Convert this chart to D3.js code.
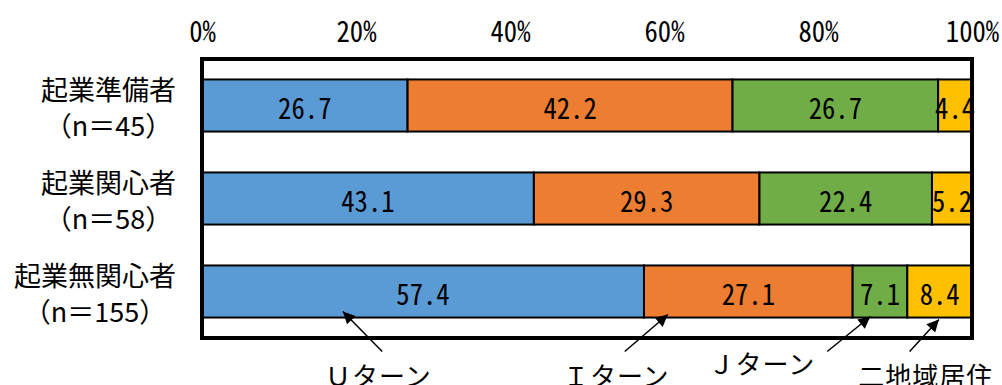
<!DOCTYPE html>
<html>
<head>
<meta charset="utf-8">
<script src="https://cdn.jsdelivr.net/npm/d3@7"></script>
<style>
  html, body { margin: 0; padding: 0; background: #fff; }
  svg { display: block; }
  .num { font-family: "Noto Sans Mono CJK JP", "Liberation Mono", monospace; }
  .jp { font-family: "Noto Sans CJK JP", sans-serif; }
</style>
</head>
<body>
<svg id="chart" width="1002" height="385"></svg>
<script>
// ---- data ----
const categories = ["起業準備者", "起業関心者", "起業無関心者"];
const sampleSizes = ["（n＝45）", "（n＝58）", "（n＝155）"];
const seriesNames = ["Ｕターン", "Ｉターン", "Ｊターン", "二地域居住"];
const uTurn = [26.7, 43.1, 57.4];
const iTurn = [42.2, 29.3, 27.1];
const jTurn = [26.7, 22.4, 7.1];
const dualResidence = [4.4, 5.2, 8.4];
const tickValues = [0, 20, 40, 60, 80, 100];

// ---- styling / layout ----
const colors = ["#5B9BD5", "#ED7D31", "#70AD47", "#FFC000"];
const plot = { left: 202, right: 972, top: 59, bottom: 338 };
const numScale = 0.92;   // horizontal condensing of numeric labels
const numSize = 29;

const svg = d3.select("#chart");
const x = d3.scaleLinear().domain([0, 100]).range([plot.left, plot.right]);
const y = d3.scaleBand().domain(categories).range([plot.top, plot.bottom])
  .paddingInner(0.44).paddingOuter(0.22);

const seriesValues = [uTurn, iTurn, jTurn, dualResidence];
const rows = categories.map((c, i) => {
  const o = { category: c };
  seriesNames.forEach((s, k) => o[s] = seriesValues[k][i]);
  return o;
});
const stacked = d3.stack().keys(seriesNames)(rows);

function condensedText(parent, cx, cy, str) {
  return parent.append("text").attr("class", "num")
    .attr("transform", `translate(${cx},${cy}) scale(${numScale},1)`)
    .attr("text-anchor", "middle").attr("dominant-baseline", "central")
    .attr("font-size", numSize).attr("fill", "#000")
    .text(str);
}

// frame background
svg.append("rect")
  .attr("x", plot.left).attr("y", plot.top)
  .attr("width", plot.right - plot.left).attr("height", plot.bottom - plot.top)
  .attr("fill", "#fff");

// bars
const layers = svg.append("g").selectAll("g").data(stacked).join("g")
  .attr("fill", (d, i) => colors[i]);
layers.selectAll("rect").data(d => d).join("rect")
  .attr("x", d => x(d[0]))
  .attr("y", d => y(d.data.category))
  .attr("width", d => x(d[1]) - x(d[0]))
  .attr("height", y.bandwidth())
  .attr("stroke", "#000").attr("stroke-width", 2);

// frame
svg.append("rect")
  .attr("x", plot.left).attr("y", plot.top)
  .attr("width", plot.right - plot.left).attr("height", plot.bottom - plot.top)
  .attr("fill", "none").attr("stroke", "#000").attr("stroke-width", 4);

// data labels
const fmt = d3.format(".1f");
const labelG = svg.append("g");
stacked.forEach(layer => {
  layer.forEach(d => {
    condensedText(labelG, (x(d[0]) + x(d[1])) / 2,
      y(d.data.category) + y.bandwidth() / 2 + 1, fmt(d[1] - d[0]));
  });
});

// top axis
const axis = d3.axisTop(x).tickValues(tickValues).tickSize(0).tickFormat(d => d + "%");
const axG = svg.append("g").attr("transform", `translate(0,${plot.top})`).call(axis);
axG.select(".domain").remove();
axG.selectAll(".tick").each(function (d) {
  const t = d3.select(this);
  const label = t.select("text").text();
  t.select("text").remove();
  condensedText(t, 0, 30 - plot.top, label);
});

// category labels (block right-aligned, lines centered)
const catRight = 176;
categories.forEach((c, i) => {
  const cy = y(c) + y.bandwidth() / 2;
  const g = svg.append("g");
  const t1 = g.append("text").attr("class", "jp").attr("font-size", 27)
    .attr("dominant-baseline", "central").attr("text-anchor", "middle")
    .attr("y", cy - 17).text(c);
  const t2 = g.append("text").attr("class", "jp").attr("font-size", 27)
    .attr("dominant-baseline", "central").attr("text-anchor", "middle")
    .attr("y", cy + 19).text(sampleSizes[i]);
  const w = Math.max(t1.node().getComputedTextLength(), t2.node().getComputedTextLength());
  t1.attr("x", catRight - w / 2);
  t2.attr("x", catRight - w / 2);
});

// annotations (arrow tip / tail / label positions in data percent)
const annTipPct = [18.3, 60.5, 86.8, 95.7];
const annTipDy = [-6, -3, -1, 2];
const annTailPct = [23.4, 54.9, 81.2, 91.9];
const annLabelPct = [22.9, 53.8, 72.7, 94.0];
const annLabelDy = [57, 57, 45, 57];

svg.append("defs").append("marker")
  .attr("id", "arrow").attr("viewBox", "0 0 10 10")
  .attr("refX", 10).attr("refY", 5)
  .attr("markerWidth", 14).attr("markerHeight", 12)
  .attr("markerUnits", "userSpaceOnUse")
  .attr("orient", "auto")
  .append("path").attr("d", "M0,0 L10,5 L0,10 Z").attr("fill", "#000");

const lastCat = categories[categories.length - 1];
const barBottom = y(lastCat) + y.bandwidth();
seriesNames.forEach((s, k) => {
  svg.append("line")
    .attr("x1", x(annTailPct[k])).attr("y1", barBottom + 34)
    .attr("x2", x(annTipPct[k])).attr("y2", barBottom + annTipDy[k])
    .attr("stroke", "#000").attr("stroke-width", 1.5)
    .attr("marker-end", "url(#arrow)");
  svg.append("text").attr("class", "jp").attr("font-size", 26)
    .attr("x", x(annLabelPct[k])).attr("y", barBottom + annLabelDy[k])
    .attr("text-anchor", "middle").attr("dominant-baseline", "central")
    .attr("letter-spacing", 1)
    .text(s);
});
</script>
</body>
</html>
